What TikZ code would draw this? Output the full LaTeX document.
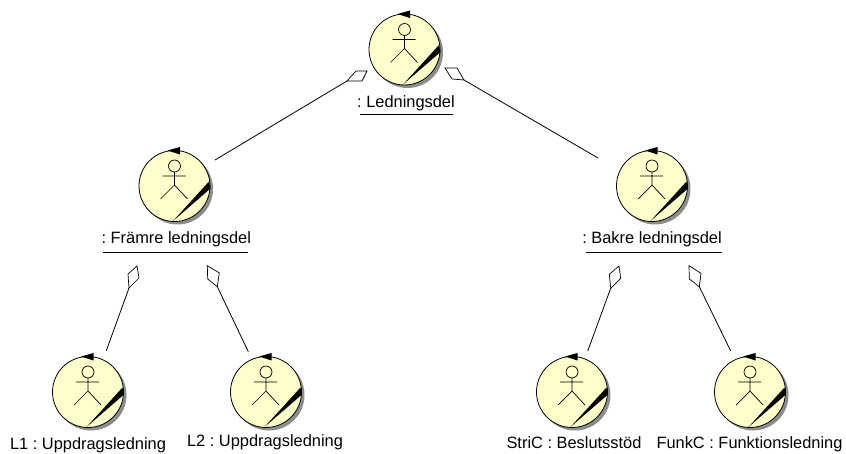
\documentclass[tikz,border=0pt]{standalone}
\usepackage{fontspec}
\setmainfont{Liberation Sans}
\usetikzlibrary{calc}
\definecolor{fillc}{RGB}{255,255,204}
\tikzset{
  actorbody/.style={circle,draw=black,line width=0.8pt,fill=fillc,minimum size=71pt,inner sep=0pt},
  lbl/.style={font=\fontsize{16.4}{18}\selectfont\frenchspacing,text=black,inner sep=0pt,anchor=base},
  rule/.style={black,line width=0.8pt},
  conn/.style={black,line width=0.8pt},
  dia/.style={draw=black,fill=white,line width=0.7pt,line join=miter},
  stick/.style={black,line width=0.7pt}
}
\newcommand{\actorfig}[3]{%
  \fill[black!45] (#2+3,#3+3) circle (35.5);
  \node[actorbody] (#1) at (#2,#3) {};
  \fill[black] (#2-1.5,#3+35) -- (#2+34.5,#3-4.5) -- (#2+36,#3+2.5) -- cycle;
  \fill[black] (#2-7,#3-35.5) -- (#2+5.5,#3-39) -- (#2+5.5,#3-31.5) -- cycle;
  \draw[stick] (#2,#3-20) circle (6);
  \draw[stick] (#2,#3-14) -- (#2,#3-1) (#2-12,#3-10) -- (#2+11,#3-10)
     (#2-14,#3+13) -- (#2,#3-1) -- (#2+13,#3+13);
}
\newcommand{\aggr}[6]{% name, c1,c2,c3, tip(c4), free end
  \coordinate (#1a) at #2; \coordinate (#1b) at #3; \coordinate (#1c) at #4; \coordinate (#1d) at #5;
  \coordinate (#1e) at #6;
  \draw[conn] (#1c) -- (#1e);
  \draw[dia] (#1a) -- (#1b) -- (#1c) -- (#1d) -- cycle;
}
\begin{document}
\begin{tikzpicture}[x=1pt,y=-1pt]
\useasboundingbox (0,0) rectangle (846,454);
\actorfig{top}{404.5}{49.5}
\actorfig{ml}{174.5}{186}
\actorfig{mr}{652}{186}
\actorfig{b1}{88}{392}
\actorfig{b2}{266}{392}
\actorfig{b3}{572}{392}
\actorfig{b4}{750}{392}
\node[lbl] (ttop) at (406,107.5) {: Ledningsdel};
\node[lbl] (tml) at (176.3,244) {: Främre ledningsdel};
\node[lbl] (tmr) at (652,244) {: Bakre ledningsdel};
\node[lbl] (tb1) at (88,449) {L1 : Uppdragsledning};
\node[lbl] (tb2) at (265,446) {L2 : Uppdragsledning};
\node[lbl] (tb3) at (574,448) {StriC : Beslutsstöd};
\node[lbl] (tb4) at (749.5,448) {FunkC : Funktionsledning};
\coordinate (u1a) at (360,114.5); \coordinate (u1b) at (453,114.5);
\coordinate (u2a) at (103,252.5); \coordinate (u2b) at (248,252.5);
\coordinate (u3a) at (586,252.5); \coordinate (u3b) at (722,252.5);
\draw[rule] (u1a) -- (u1b);
\draw[rule] (u2a) -- (u2b);
\draw[rule] (u3a) -- (u3b);
\aggr{c1}{(367,71)}{(356,71)}{(347,81)}{(362,81)}{(215,160)}
\aggr{c2}{(445,68)}{(457,68)}{(464,80)}{(452,79)}{(598,158)}
\aggr{c3}{(137,266)}{(139,278)}{(129,288)}{(128,274)}{(106.3,350.7)}
\aggr{c4}{(207.3,265.7)}{(219.3,273)}{(217.3,286.7)}{(207.7,279)}{(248.3,351.7)}
\aggr{c5}{(619,266)}{(620.7,278.3)}{(610.7,288.3)}{(609.3,274.3)}{(587.7,351)}
\aggr{c6}{(689,265.7)}{(701,273.3)}{(699.3,286.7)}{(689.3,279)}{(730.7,351)}
\end{tikzpicture}
\end{document}
